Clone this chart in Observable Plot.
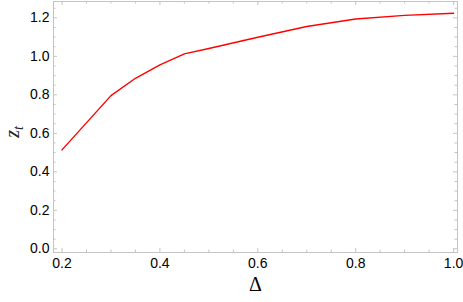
<!DOCTYPE html>
<html>
<head>
<meta charset="utf-8">
<script src="https://cdn.jsdelivr.net/npm/d3@7"></script>
<script src="https://cdn.jsdelivr.net/npm/@observablehq/plot@0.6"></script>
<style>
  html, body { margin: 0; padding: 0; background: #fff; }
  #chart { width: 463px; height: 302px; }
</style>
</head>
<body>
<div id="chart"></div>
<script>
// Data
const delta = [0.2, 0.3, 0.35, 0.4, 0.45, 0.5, 0.6, 0.7, 0.8, 0.9, 1.0];
const zt    = [0.514, 0.796, 0.886, 0.956, 1.013, 1.041, 1.099, 1.155, 1.194, 1.213, 1.224];

// Tick positions / labels
const xMajor = [0.2, 0.4, 0.6, 0.8, 1.0];
const xMinor = [0.25, 0.3, 0.35, 0.45, 0.5, 0.55, 0.65, 0.7, 0.75, 0.85, 0.9, 0.95];
const yMajor = [0.0, 0.2, 0.4, 0.6, 0.8, 1.0, 1.2];
const yMinor = [0.05, 0.1, 0.15, 0.25, 0.3, 0.35, 0.45, 0.5, 0.55, 0.65, 0.7, 0.75, 0.85, 0.9, 0.95, 1.05, 1.1, 1.15, 1.25];
const xLabel = "Δ";
const yLabelMain = "z";
const yLabelSub = "t";

const rows = delta.map((d, i) => ({delta: d, zt: zt[i]}));

const W = 463, H = 302;
const mL = 53, mR = 6, mT = 1, mB = 50;
const fw = W - mL - mR, fh = H - mT - mB;
const frameColor = "#c4c4c4";
const maj = 4, mnr = 2.5;

const plot = Plot.plot({
  width: W, height: H,
  marginLeft: mL, marginRight: mR, marginTop: mT, marginBottom: mB,
  style: {fontFamily: "'Liberation Sans', Arial, sans-serif", background: "#fff", color: "#000"},
  x: {domain: [0.1826, 1.008]},
  y: {domain: [-0.0192, 1.285]},
  marks: [
    // inward frame ticks
    Plot.tickX(xMajor, {x: d => d, stroke: frameColor, insetTop: fh - maj}),
    Plot.tickX(xMinor, {x: d => d, stroke: frameColor, insetTop: fh - mnr}),
    Plot.tickX(xMajor, {x: d => d, stroke: frameColor, insetBottom: fh - maj}),
    Plot.tickX(xMinor, {x: d => d, stroke: frameColor, insetBottom: fh - mnr}),
    Plot.tickY(yMajor, {y: d => d, stroke: frameColor, insetRight: fw - maj}),
    Plot.tickY(yMinor, {y: d => d, stroke: frameColor, insetRight: fw - mnr}),
    Plot.tickY(yMajor, {y: d => d, stroke: frameColor, insetLeft: fw - maj}),
    Plot.tickY(yMinor, {y: d => d, stroke: frameColor, insetLeft: fw - mnr}),
    Plot.frame({stroke: frameColor}),
    Plot.axisX(xMajor, {tickSize: 0, tickPadding: 6, tickFormat: d3.format(".1f"), fontSize: 14, label: null}),
    Plot.axisY(yMajor, {tickSize: 0, tickPadding: 4, tickFormat: d3.format(".1f"), fontSize: 14, label: null}),
    Plot.line(rows, {x: "delta", y: "zt", stroke: "#ff0000", strokeWidth: 1.4}),
    Plot.text([xLabel], {frameAnchor: "bottom", dy: 38, fontSize: 20, fontFamily: "'Liberation Serif', serif", text: d => d})
  ]
});

const svg = d3.select(plot);
const t = svg.append("text")
  .attr("transform", "translate(19,132) rotate(-90)")
  .attr("font-family", "'Liberation Serif', serif")
  .attr("font-size", 20)
  .attr("fill", "#222");
t.append("tspan").attr("font-style", "italic").text(yLabelMain);
t.append("tspan").attr("font-style", "italic").attr("font-size", 14).attr("dy", 4).text(yLabelSub);

document.getElementById("chart").appendChild(plot);
</script>
</body>
</html>
